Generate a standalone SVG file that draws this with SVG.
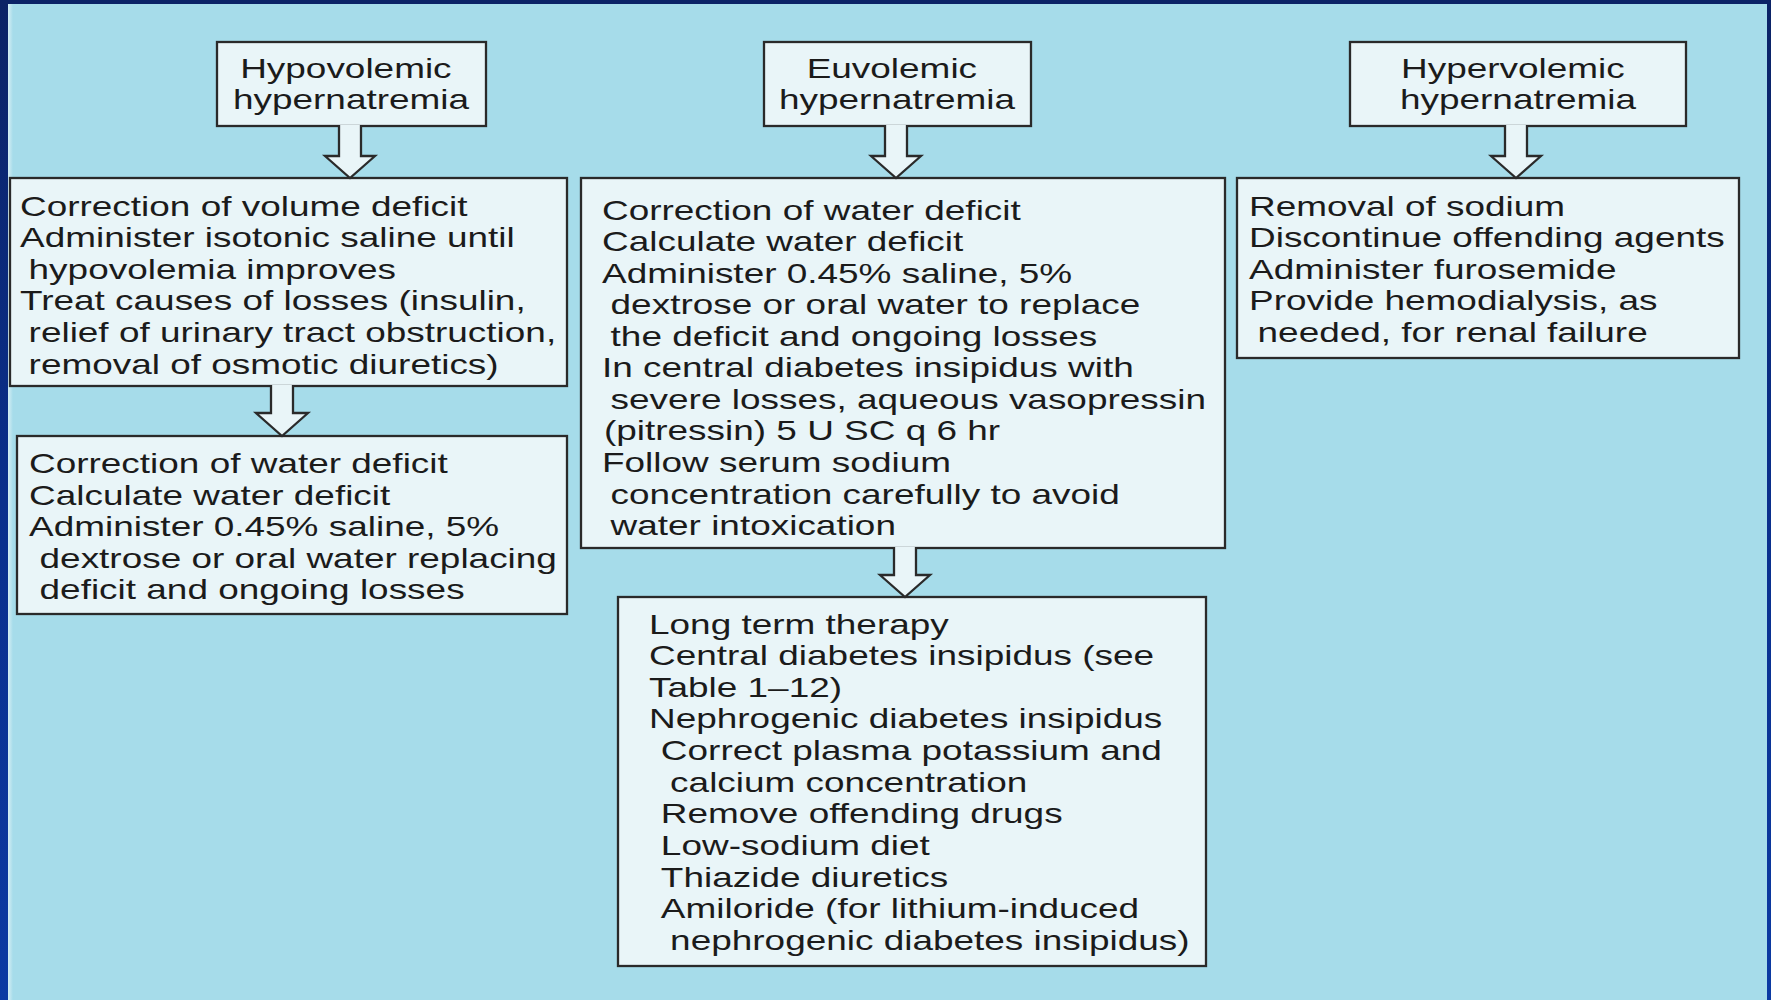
<svg xmlns="http://www.w3.org/2000/svg" width="1771" height="1000" viewBox="0 0 1771 1000">
  <defs>
    <linearGradient id="sideBar" x1="0" y1="0" x2="0" y2="1">
      <stop offset="0" stop-color="#0b2366"/>
      <stop offset="0.5" stop-color="#0a2f8c"/>
      <stop offset="1" stop-color="#0b3aa3"/>
    </linearGradient>
    <linearGradient id="edgeGlow" x1="0" y1="0" x2="1" y2="0">
      <stop offset="0" stop-color="#dff2f6"/>
      <stop offset="1" stop-color="#a6dcea"/>
    </linearGradient>
    <style>
      .box { fill: #e9f5f8; stroke: #2a2a2a; stroke-width: 2.3; }
      .arrow { fill: #e9f5f8; stroke: #2a2a2a; stroke-width: 2.3; stroke-linejoin: miter; }
      .t { font-family: "Liberation Sans", Arial, Helvetica, sans-serif; font-size: 28px; fill: #1b1b1b; }
      .c { text-anchor: middle; }
    </style>
  </defs>

  <!-- slide background and frame -->
  <rect x="0" y="0" width="1771" height="1000" fill="#a6dcea"/>
  <rect x="7" y="0" width="6" height="1000" fill="url(#edgeGlow)"/>
  <rect x="0" y="0" width="8" height="1000" fill="url(#sideBar)"/>
  <rect x="1767" y="0" width="4" height="1000" fill="url(#sideBar)"/>
  <rect x="0" y="0" width="1771" height="4" fill="#0b2366"/>

  <!-- Hypovolemic column -->
  <g id="hypovolemic">
    <rect class="box" x="217" y="42" width="269" height="84"/>
    <text class="t c" transform="matrix(1.32 0 0 1 351 0)">
      <tspan x="0" y="78">Hypovolemic</tspan>
      <tspan x="0" y="109">hypernatremia</tspan>
    </text>
  </g>

  <g id="volume-deficit">
    <rect class="box" x="10" y="178" width="557" height="208"/>
    <text class="t" transform="matrix(1.32 0 0 1 20 0)">
      <tspan x="0" y="216">Correction of volume deficit</tspan>
      <tspan x="0" y="247">Administer isotonic saline until</tspan>
      <tspan x="6.5" y="279">hypovolemia improves</tspan>
      <tspan x="0" y="310">Treat causes of losses (insulin,</tspan>
      <tspan x="6.5" y="342">relief of urinary tract obstruction,</tspan>
      <tspan x="6.5" y="374">removal of osmotic diuretics)</tspan>
    </text>
  </g>

  <g id="hypo-water-deficit">
    <rect class="box" x="17" y="436" width="550" height="178"/>
    <text class="t" transform="matrix(1.32 0 0 1 29 0)">
      <tspan x="0" y="473">Correction of water deficit</tspan>
      <tspan x="0" y="505">Calculate water deficit</tspan>
      <tspan x="0" y="536">Administer 0.45% saline, 5%</tspan>
      <tspan x="8" y="568">dextrose or oral water replacing</tspan>
      <tspan x="8" y="599">deficit and ongoing losses</tspan>
    </text>
  </g>

  <!-- Euvolemic column -->
  <g id="euvolemic">
    <rect class="box" x="764" y="42" width="267" height="84"/>
    <text class="t c" transform="matrix(1.32 0 0 1 897 0)">
      <tspan x="0" y="78">Euvolemic</tspan>
      <tspan x="0" y="109">hypernatremia</tspan>
    </text>
  </g>

  <g id="euvo-water-deficit">
    <rect class="box" x="581" y="178" width="644" height="370"/>
    <text class="t" transform="matrix(1.32 0 0 1 602 0)">
      <tspan x="0" y="220">Correction of water deficit</tspan>
      <tspan x="0" y="251">Calculate water deficit</tspan>
      <tspan x="0" y="283">Administer 0.45% saline, 5%</tspan>
      <tspan x="6.5" y="314">dextrose or oral water to replace</tspan>
      <tspan x="6.5" y="346">the deficit and ongoing losses</tspan>
      <tspan x="0" y="377">In central diabetes insipidus with</tspan>
      <tspan x="6.5" y="409">severe losses, aqueous vasopressin</tspan>
      <tspan x="1.5" y="440">(pitressin) 5 U SC q 6 hr</tspan>
      <tspan x="0" y="472">Follow serum sodium</tspan>
      <tspan x="6.5" y="504">concentration carefully to avoid</tspan>
      <tspan x="6.5" y="535">water intoxication</tspan>
    </text>
  </g>

  <g id="long-term-therapy">
    <rect class="box" x="618" y="597" width="588" height="369"/>
    <text class="t" transform="matrix(1.32 0 0 1 649 0)">
      <tspan x="0" y="634">Long term therapy</tspan>
      <tspan x="0" y="665">Central diabetes insipidus (see</tspan>
      <tspan x="0" y="697">Table 1–12)</tspan>
      <tspan x="0" y="728">Nephrogenic diabetes insipidus</tspan>
      <tspan x="9" y="760">Correct plasma potassium and</tspan>
      <tspan x="16" y="792">calcium concentration</tspan>
      <tspan x="9" y="823">Remove offending drugs</tspan>
      <tspan x="9" y="855">Low-sodium diet</tspan>
      <tspan x="9" y="887">Thiazide diuretics</tspan>
      <tspan x="9" y="918">Amiloride (for lithium-induced</tspan>
      <tspan x="16" y="950">nephrogenic diabetes insipidus)</tspan>
    </text>
  </g>

  <!-- Hypervolemic column -->
  <g id="hypervolemic">
    <rect class="box" x="1350" y="42" width="336" height="84"/>
    <text class="t c" transform="matrix(1.32 0 0 1 1518 0)">
      <tspan x="0" y="78">Hypervolemic</tspan>
      <tspan x="0" y="109">hypernatremia</tspan>
    </text>
  </g>

  <g id="sodium-removal">
    <rect class="box" x="1237" y="178" width="502" height="180"/>
    <text class="t" transform="matrix(1.32 0 0 1 1249 0)">
      <tspan x="0" y="216">Removal of sodium</tspan>
      <tspan x="0" y="247">Discontinue offending agents</tspan>
      <tspan x="0" y="279">Administer furosemide</tspan>
      <tspan x="0" y="310">Provide hemodialysis, as</tspan>
      <tspan x="6.5" y="342">needed, for renal failure</tspan>
    </text>
  </g>

  <!-- hollow block arrows between boxes -->
  <g id="connectors">
    <path class="arrow" d="M339,125 V156 H325 L350,178 L375,156 H361 V125"/>
    <path class="arrow" d="M271,385 V413 H256 L282,436 L308,413 H293 V385"/>
    <path class="arrow" d="M885,125 V156 H871 L896,178 L921,156 H907 V125"/>
    <path class="arrow" d="M894,547 V575 H880 L905,597 L930,575 H916 V547"/>
    <path class="arrow" d="M1505,125 V156 H1491 L1516,178 L1541,156 H1527 V125"/>
  </g>
</svg>
